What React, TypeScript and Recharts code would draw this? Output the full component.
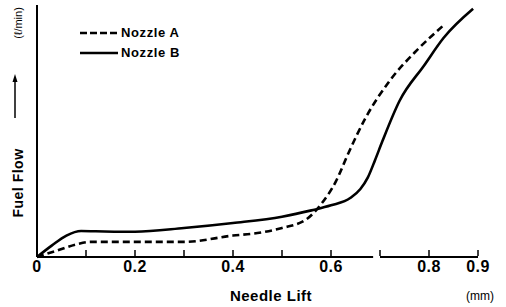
import React from "react";
import { LineChart, Line, XAxis, YAxis, ReferenceLine, Label } from "recharts";

const liftTicks = [0, 0.1, 0.2, 0.3, 0.4, 0.5, 0.6, 0.7, 0.8, 0.9];
const labelledTicks = [0, 0.2, 0.4, 0.6, 0.8, 0.9];

const nozzleALift = [0, 0.04, 0.08, 0.11, 0.2, 0.3, 0.4, 0.45, 0.5, 0.55, 0.58, 0.61, 0.635, 0.67, 0.72, 0.775, 0.83];
const nozzleAFlow = [0, 0.25, 0.5, 0.6, 0.6, 0.6, 0.85, 0.95, 1.15, 1.5, 2.1, 3.0, 4.1, 5.5, 7.0, 8.2, 9.2];

const nozzleBLift = [0, 0.03, 0.06, 0.09, 0.12, 0.2, 0.3, 0.4, 0.5, 0.56, 0.6, 0.64, 0.66, 0.675, 0.69, 0.705, 0.74, 0.79, 0.83, 0.89];
const nozzleBFlow = [0, 0.45, 0.85, 1.03, 1.02, 1.0, 1.15, 1.35, 1.6, 1.85, 2.05, 2.35, 2.7, 3.15, 3.85, 4.6, 6.2, 7.6, 8.7, 9.85];

const nozzleA = nozzleALift.map((lift, i) => ({ lift, flow: nozzleAFlow[i] }));
const nozzleB = nozzleBLift.map((lift, i) => ({ lift, flow: nozzleBFlow[i] }));

const FONT = "'Liberation Sans', Arial, sans-serif";

const LiftTick = (props: any) => {
  const { x, y, payload } = props;
  const v = payload.value;
  const show = labelledTicks.some((t) => Math.abs(t - v) < 1e-6);
  return (
    <g>
      <line x1={x} y1={y - 1} x2={x} y2={y - 7} stroke="#000" strokeWidth={1.5} />
      {show && (
        <text x={x} y={y + 15} textAnchor="middle" fontFamily={FONT} fontWeight="bold" fontSize={16} letterSpacing={0.5} fill="#000">
          {v === 0 ? "0" : v.toFixed(1)}
        </text>
      )}
    </g>
  );
};

// legend + y title drawn at fixed page spots
const YTitle = () => (
  <g fontFamily={FONT} fill="#000">
    <text transform="translate(23,183) rotate(-90)" textAnchor="middle" fontWeight="bold" fontSize={14} letterSpacing={0.5}>Fuel  Flow</text>
    <line x1={15} y1={118} x2={15} y2={80} stroke="#000" strokeWidth={1.5} />
    <path d="M15,74 L12.5,82 L17.5,82 Z" fill="#000" />
    <text transform="translate(22,23) rotate(-90)" textAnchor="middle" fontSize={11}>(ℓ/min)</text>
    <line x1={80} y1={33} x2={118} y2={33} stroke="#000" strokeWidth={2.5} strokeDasharray="7 3" />
    <text x={121} y={37} fontWeight="bold" fontSize={13} letterSpacing={0.6}>Nozzle  A</text>
    <line x1={80} y1={53} x2={118} y2={53} stroke="#000" strokeWidth={2.5} />
    <text x={121} y={57} fontWeight="bold" fontSize={13} letterSpacing={0.6}>Nozzle  B</text>
  </g>
);

const XTitle = () => (
  <g fontFamily={FONT} fill="#000">
    <text x={271} y={301} textAnchor="middle" fontWeight="bold" fontSize={15} letterSpacing={0.5}>Needle  Lift</text>
    <text x={480} y={300} textAnchor="middle" fontSize={12}>(mm)</text>
  </g>
);

export default function App() {
  return (
    <div style={{ position: "absolute", left: 0, top: 0, background: "#fff" }}>
      <LineChart width={506} height={307} margin={{ top: 5, right: 28, bottom: 49, left: 36 }}>
        <XAxis
          type="number"
          dataKey="lift"
          domain={[0, 0.9]}
          ticks={liftTicks}
          interval={0}
          height={1}
          axisLine={false}
          tickLine={false}
          tickSize={0}
          tickMargin={0}
          tick={<LiftTick />}
          allowDuplicatedCategory={false}
        >
          <Label content={() => <XTitle />} />
        </XAxis>
        <YAxis
          type="number"
          dataKey="flow"
          domain={[0, 10]}
          width={1}
          tick={false}
          tickLine={false}
          axisLine={{ stroke: "#000", strokeWidth: 2 }}
        >
          <Label content={() => <YTitle />} />
        </YAxis>
        <ReferenceLine segment={[{ x: 0, y: 0 }, { x: 0.686, y: 0 }]} stroke="#000" strokeWidth={2} ifOverflow="visible" />
        <ReferenceLine segment={[{ x: 0.7, y: 0 }, { x: 0.9, y: 0 }]} stroke="#000" strokeWidth={2} ifOverflow="visible" />
        <Line
          data={nozzleA}
          dataKey="flow"
          name="Nozzle A"
          type="monotone"
          stroke="#000"
          strokeWidth={2.6}
          strokeDasharray="7 4"
          dot={false}
          isAnimationActive={false}
        />
        <Line
          data={nozzleB}
          dataKey="flow"
          name="Nozzle B"
          type="monotone"
          stroke="#000"
          strokeWidth={2.6}
          dot={false}
          isAnimationActive={false}
        />
      </LineChart>
    </div>
  );
}
